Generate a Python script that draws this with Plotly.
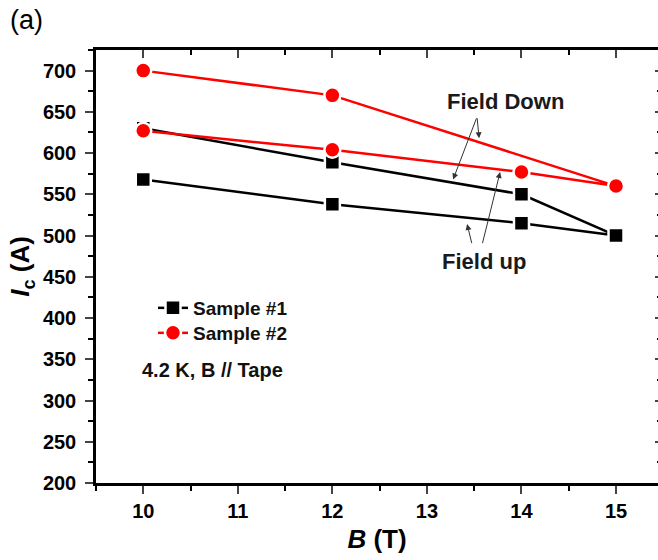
import plotly.graph_objects as go

# Data
b_sample1 = [10, 12, 14, 15, 14, 12, 10]
ic_sample1 = [630, 589, 550, 500, 515, 538, 568]
b_sample2 = [10, 12, 15, 14, 12, 10]
ic_sample2 = [700, 670, 560, 577, 604, 627]

x_ticks = [10, 11, 12, 13, 14, 15]
y_ticks = [200, 250, 300, 350, 400, 450, 500, 550, 600, 650, 700]
x_range = [9.5, 15.444]
y_range = [200, 725]

FONT = "Liberation Sans, Arial, sans-serif"

fig = go.Figure()
fig.add_trace(go.Scatter(
    x=b_sample1, y=ic_sample1, mode="lines+markers", name="Sample #1", legend="legend",
    line=dict(color="black", width=2.5),
    marker=dict(symbol="square", size=15, color="black", line=dict(color="white", width=2.5)),
))
fig.add_trace(go.Scatter(
    x=b_sample2, y=ic_sample2, mode="lines+markers", name="Sample #2", legend="legend2",
    line=dict(color="#ff0000", width=2.5),
    marker=dict(symbol="circle", size=16, color="#ff0000", line=dict(color="white", width=2.5)),
))
# invisible trace to bring up mirror axes
fig.add_trace(go.Scatter(x=[None], y=[None], xaxis="x2", yaxis="y2", showlegend=False, hoverinfo="skip"))

tickfont = dict(family=FONT, size=20, color="black", weight="bold")
legfont = dict(family=FONT, size=19, color="#111", weight="bold")

fig.update_layout(
    width=658, height=560,
    margin=dict(l=96, r=0, t=50, b=77),
    paper_bgcolor="white", plot_bgcolor="white",
    showlegend=True,
    legend=dict(x=(153 - 96) / 562, y=1 - (308 - 50) / 433, xanchor="left", yanchor="middle",
                bgcolor="rgba(0,0,0,0)", font=legfont, itemwidth=30),
    legend2=dict(x=(153 - 96) / 562, y=1 - (333 - 50) / 433, xanchor="left", yanchor="middle",
                 bgcolor="rgba(0,0,0,0)", font=legfont, itemwidth=30),
    xaxis=dict(
        range=x_range, tickvals=x_ticks, ticks="outside", ticklen=8, tickwidth=2,
        showline=True, linewidth=2.5, linecolor="black", showgrid=False, zeroline=False,
        tickfont=tickfont, automargin=False,
        minor=dict(dtick=0.5, tick0=9.5, ticks="outside", ticklen=5, tickwidth=2, tickcolor="black"),
        title=dict(text="<i>B</i> (T)", font=dict(family=FONT, size=26, color="black", weight="bold"), standoff=10),
    ),
    yaxis=dict(
        range=y_range, tickvals=y_ticks, ticks="outside", ticklen=8, tickwidth=2,
        showline=True, linewidth=2.5, linecolor="black", showgrid=False, zeroline=False,
        tickfont=tickfont, ticklabelstandoff=5, automargin=False,
        minor=dict(dtick=25, tick0=200, ticks="outside", ticklen=5, tickwidth=2, tickcolor="black"),
        title=dict(text="<i>I</i><sub>c</sub> (A)", font=dict(family=FONT, size=26, color="black", weight="bold"), standoff=6),
    ),
    xaxis2=dict(
        overlaying="x", side="top", range=x_range, tickvals=x_ticks, ticks="inside", ticklen=8, tickwidth=2,
        showline=True, linewidth=2.5, linecolor="black", showgrid=False, zeroline=False, showticklabels=False,
        automargin=False,
        minor=dict(dtick=0.5, tick0=9.5, ticks="inside", ticklen=5, tickwidth=2, tickcolor="black"),
    ),
    yaxis2=dict(
        overlaying="y", side="right", range=y_range, tickvals=y_ticks, ticks="inside", ticklen=3, tickwidth=2,
        showline=False, showgrid=False, zeroline=False, showticklabels=False, automargin=False,
        minor=dict(dtick=25, tick0=200, ticks="inside", ticklen=1, tickwidth=2, tickcolor="black"),
    ),
)

ann_font = dict(family=FONT, size=22, color="#1a1a1a", weight="bold")
arrow_style = dict(showarrow=True, arrowhead=2, arrowsize=1.2, arrowwidth=1, arrowcolor="#333",
                   axref="x", ayref="y", xref="x", yref="y", text="")

# arrows (tail -> tip) in data coordinates
arrows = [
    ((13.53, 644), (13.277, 568)),
    ((13.53, 644), (13.552, 618)),
    ((13.584, 489), (13.774, 577)),
    ((13.478, 489), (13.425, 514)),
]
for (tx, ty), (hx, hy) in arrows:
    fig.add_annotation(x=hx, y=hy, ax=tx, ay=ty, **arrow_style)

fig.add_annotation(x=13.83, y=662, text="Field Down", showarrow=False, font=ann_font, xref="x", yref="y")
fig.add_annotation(x=13.6, y=468, text="Field up", showarrow=False, font=ann_font, xref="x", yref="y")
fig.add_annotation(x=(140 - 96) / 562, y=1 - (370 - 50) / 433, xref="paper", yref="paper",
                   xanchor="left", yanchor="middle", text="4.2 K, B // Tape", showarrow=False,
                   font=dict(family=FONT, size=20, color="#111", weight="bold"))
fig.add_annotation(x=(8 - 96) / 562, y=1 + (50 - 20) / 433, xref="paper", yref="paper",
                   xanchor="left", yanchor="middle", text="(a)", showarrow=False,
                   font=dict(family=FONT, size=27, color="black"))

fig.write_html("out.html", config={"displayModeBar": False},
               post_script="document.body.style.margin='0';document.body.style.overflow='hidden';")
